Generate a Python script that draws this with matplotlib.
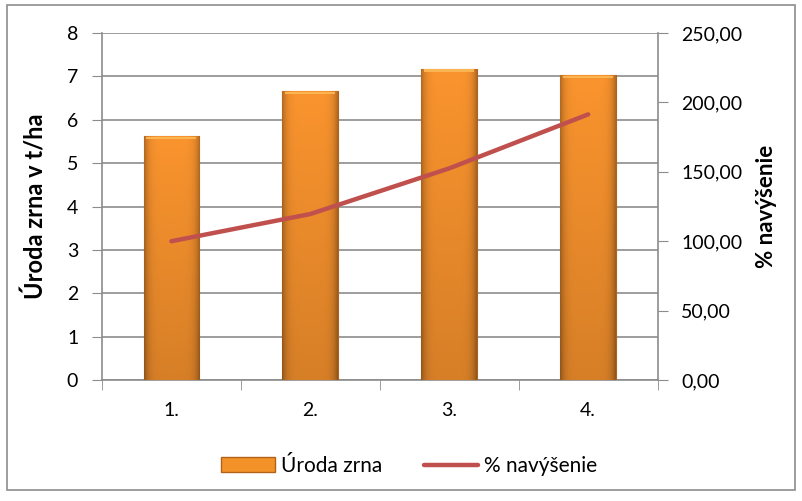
import matplotlib.pyplot as plt
import numpy as np
from matplotlib.patches import Rectangle
from matplotlib.lines import Line2D

# data
categories = ['1.', '2.', '3.', '4.']
uroda = [5.62, 6.66, 7.17, 7.03]
navysenie = [100.0, 119.6, 152.5, 191.4]

plt.rcParams['font.family'] = ['Lato', 'DejaVu Sans']

fig = plt.figure(figsize=(8.02, 5.01), dpi=100)
# outer frame
fig.patches.append(Rectangle((0.009, 0.022), 0.982, 0.968, transform=fig.transFigure,
                             fill=False, edgecolor='#8c8c8c', linewidth=1.2))

ax = fig.add_axes([0.127, 0.2415, 0.693, 0.6925])
x = np.arange(len(categories))

# bars with a soft gradient
bars = ax.bar(x, uroda, width=0.4, color='#F39229', edgecolor='#B0621A', linewidth=0.8, zorder=3)
grad_h = np.abs(np.linspace(-1, 1, 64))
base = np.array([0.98, 0.58, 0.18])
for b in bars:
    x0, y0 = b.get_x(), b.get_y()
    w, h = b.get_width(), b.get_height()
    vy = np.linspace(0, 1, 64)[:, None]
    shade = 0.28 * grad_h[None, :] ** 6 + 0.14 * (1 - vy)
    img = base[None, None, :] * (1 - shade[:, :, None])
    im = ax.imshow(img, extent=(x0, x0 + w, y0, y0 + h), origin='lower',
                   aspect='auto', zorder=3)
    im.set_clip_path(b)
    # light top bevel
    ax.add_patch(Rectangle((x0 + 0.02, h - 0.07), w - 0.04, 0.06, color='#FAB552', zorder=4, linewidth=0))

ax.set_xlim(-0.5, 3.5)
ax.set_ylim(0, 8)
ax.set_yticks(range(0, 9))
ax.set_xticks(x)
ax.set_xticklabels(categories, fontsize=14)
ax.set_xticks(np.arange(-0.5, 4, 1), minor=True)
ax.tick_params(axis='x', which='major', length=0, pad=16)
ax.tick_params(axis='x', which='minor', length=7, color='#8c8c8c')
ax.tick_params(axis='y', labelsize=14, length=7, color='#8c8c8c', pad=10)
ax.grid(axis='y', color='#8c8c8c', linewidth=1.2, zorder=0)
for s in ['left', 'right', 'bottom']:
    ax.spines[s].set_color('#8c8c8c')
    ax.spines[s].set_linewidth(1.2)
ax.spines['top'].set_visible(False)
ax.set_ylabel('Úroda zrna v t/ha', fontsize=17, fontweight='bold', labelpad=14)

ax2 = ax.twinx()
ax2.plot(x, navysenie, color='#C0504D', linewidth=3.2, solid_capstyle='round', zorder=5)
ax2.set_ylim(0, 250)
ax2.set_yticks(np.arange(0, 251, 50))
ax2.set_yticklabels([f'{v:.2f}'.replace('.', ',') for v in np.arange(0, 251, 50)], fontsize=14)
ax2.tick_params(axis='y', length=7, color='#8c8c8c', pad=10)
for s in ['left', 'right', 'bottom', 'top']:
    ax2.spines[s].set_visible(False)
ax2.set_ylabel('% navýšenie', fontsize=16, fontweight='bold', labelpad=10)

handles = [Rectangle((0, 0), 1, 1, facecolor='#F39229', edgecolor='#B0621A'),
           Line2D([0], [0], color='#C0504D', linewidth=3.2, solid_capstyle='round')]
fig.legend(handles, ['Úroda zrna', '% navýšenie'], loc='center', bbox_to_anchor=(0.51, 0.07),
           ncol=2, frameon=False, fontsize=15, handlelength=2.6, columnspacing=2.0,
           handletextpad=0.3)

fig.savefig('out.png', dpi=100)
